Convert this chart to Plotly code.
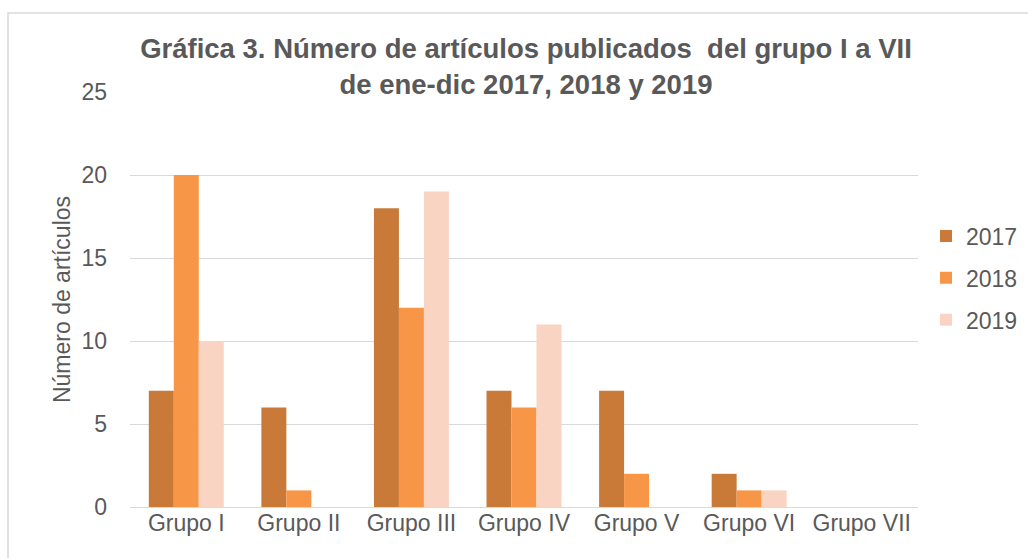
import plotly.graph_objects as go

categories = ["Grupo I", "Grupo II", "Grupo III", "Grupo IV", "Grupo V", "Grupo VI", "Grupo VII"]
v2017 = [7, 6, 18, 7, 7, 2, 0]
v2018 = [20, 1, 12, 6, 2, 1, 0]
v2019 = [10, 0, 19, 11, 0, 1, 0]
series_names = ["2017", "2018", "2019"]
colors = ["#C97A38", "#F79646", "#FAD4C3"]
yticks = [0, 5, 10, 15, 20, 25]

W, H = 1028, 558
L, R, T, B = 130, 110, 92, 51
pw, ph = W - L - R, H - T - B

font = "Liberation Sans, Arial, sans-serif"
txt = "#595959"

fig = go.Figure()
for i, (name, vals) in enumerate(zip(series_names, [v2017, v2018, v2019])):
    fig.add_trace(go.Bar(x=categories, y=vals, name=name, marker_color=colors[i],
                         marker_line_width=0, legendgroup=name))

fig.update_layout(
    width=W, height=H,
    margin=dict(l=L, r=R, t=T, b=B, autoexpand=False),
    paper_bgcolor="white", plot_bgcolor="white",
    barmode="group", bargap=0.334, bargroupgap=0,
    font=dict(family=font, color=txt, size=23),
    title=dict(text="<b>Gráfica 3. Número de artículos publicados  del grupo I a VII<br>de ene-dic 2017, 2018 y 2019</b>",
               x=(L + pw / 2 + 2) / W, xanchor="center", y=1 - 58 / H, yanchor="middle",
               font=dict(size=27.5, color=txt, family=font)),
    showlegend=True,
    legend=dict(x=(926 - L) / pw, y=(507 - 278) / ph, xanchor="left", yanchor="middle",
                font=dict(size=23, color=txt), tracegroupgap=9, itemwidth=30),
    xaxis=dict(showgrid=False, showline=False, ticks="", tickfont=dict(size=23, color=txt)),
    yaxis=dict(range=[0, 25], tickvals=yticks, showgrid=True, gridcolor="#D9D9D9", gridwidth=1,
               zeroline=True, zerolinecolor="#D9D9D9", zerolinewidth=1, showline=False,
               tickfont=dict(size=23, color=txt), ticklabelstandoff=22,
               title=dict(text="Número de artículos", font=dict(size=23, color=txt), standoff=4)),
)

# outer chart border (partially visible)
fig.add_shape(type="rect", xref="paper", yref="paper",
              x0=(8 - L) / pw, x1=(W + 20 - L) / pw,
              y0=(H - B - (H + 20)) / ph, y1=(H - B - 13) / ph,
              line=dict(color="#D9D9D9", width=1.5), fillcolor="rgba(0,0,0,0)", layer="below")

fig.write_html("out.html", config={"displayModeBar": False})
with open("out.html", "r", encoding="utf-8") as f:
    html = f.read()
html = html.replace("<head>", "<head><style>html,body{margin:0;padding:0;overflow:hidden;}</style>", 1)
with open("out.html", "w", encoding="utf-8") as f:
    f.write(html)
